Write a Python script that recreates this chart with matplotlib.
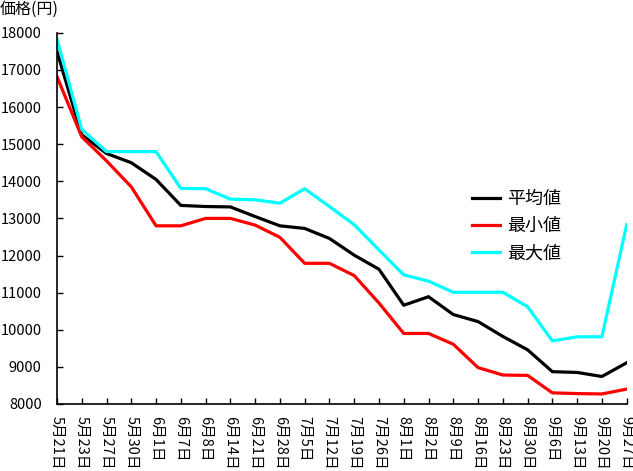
import matplotlib
matplotlib.use('Agg')
import matplotlib.pyplot as plt

plt.rcParams['font.family'] = ['Noto Sans CJK JP', 'DejaVu Sans']

dates = ['5月21日', '5月23日', '5月27日', '5月30日', '6月1日', '6月7日', '6月8日',
         '6月14日', '6月21日', '6月28日', '7月5日', '7月12日', '7月19日', '7月26日',
         '8月1日', '8月2日', '8月9日', '8月16日', '8月23日', '8月30日', '9月6日',
         '9月13日', '9月20日', '9月27日']
avg_vals = [17500, 15250, 14750, 14500, 14050, 13350, 13320, 13310, 13050, 12800,
            12730, 12460, 12010, 11630, 10660, 10890, 10410, 10220, 9820, 9460,
            8870, 8850, 8740, 9110]
min_vals = [16820, 15200, 14550, 13850, 12800, 12800, 13000, 13000, 12820, 12490,
            11790, 11790, 11460, 10720, 9900, 9900, 9610, 8980, 8780, 8770,
            8300, 8280, 8270, 8400]
max_vals = [17830, 15400, 14800, 14800, 14800, 13810, 13800, 13520, 13500, 13410,
            13800, 13320, 12830, 12150, 11480, 11310, 11010, 11010, 11010, 10620,
            9700, 9810, 9810, 12830]
yticks = list(range(8000, 18001, 1000))

fig = plt.figure(figsize=(6.33, 4.71), dpi=100)
ax = fig.add_axes([0.090, 0.1423, 0.900, 0.788])
x = range(len(dates))
ax.plot(x, avg_vals, color='black', lw=2.3, label='平均値')
ax.plot(x, min_vals, color='#ff0000', lw=2.3, label='最小値')
ax.plot(x, max_vals, color='#00ffff', lw=2.3, label='最大値')

ax.set_xlim(0, len(dates) - 1)
ax.set_ylim(8000, 18000)
ax.set_yticks(yticks)
ax.set_xticks(list(x))
ax.set_xticklabels(dates, rotation=-90, va='top', ha='center', fontsize=10.5)
ax.tick_params(direction='in', length=4, width=1, labelsize=10.5)
ax.tick_params(axis='y', pad=11)
ax.tick_params(axis='x', pad=9)
for s in ['top', 'right']:
    ax.spines[s].set_visible(False)
ax.spines['left'].set_linewidth(1.2)
ax.spines['bottom'].set_linewidth(1.2)

ax.legend(loc='upper left', bbox_to_anchor=(0.715, 0.596), frameon=False,
          fontsize=13, handlelength=1.6, handletextpad=0.35, labelspacing=0.52,
          borderaxespad=0)
fig.text(0.0, 1 - 9 / 471, '価格(円)', fontsize=11.5, va='center', ha='left')

plt.savefig('out.png', dpi=100)
